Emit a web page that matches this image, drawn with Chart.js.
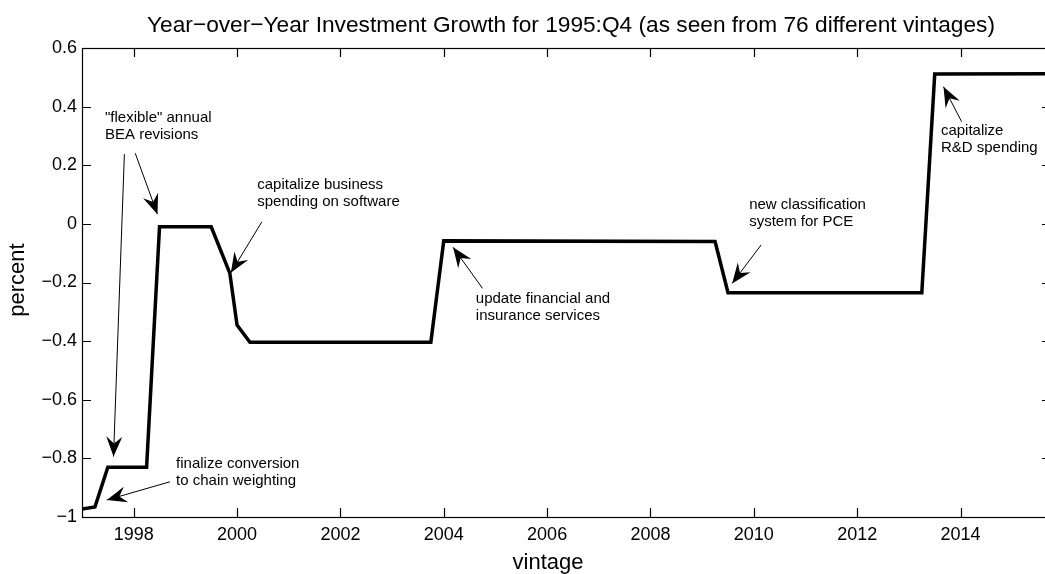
<!DOCTYPE html>
<html>
<head>
<meta charset="utf-8">
<script src="https://cdn.jsdelivr.net/npm/chart.js@4/dist/chart.umd.min.js"></script>
<style>
  html, body { margin: 0; padding: 0; background: #fff; overflow: hidden; }
  #wrap { width: 1060px; height: 574px; }
</style>
</head>
<body>
<div id="wrap"><canvas id="growthChart" width="1060" height="574"></canvas></div>
<script>
// ===============================
// DATA
// ===============================
// release vintage (year) where the estimate changed, and the growth estimate (percent)
const vintage = [1997.0, 1997.25, 1997.5, 1998.25, 1998.5, 1999.5, 1999.86, 2000.0,
                 2000.25, 2003.75, 2004.0, 2009.25, 2009.5, 2013.25, 2013.5, 2015.75];
const growth = [-0.973, -0.966, -0.83, -0.83, -0.01, -0.01, -0.168, -0.345,
                -0.404, -0.404, -0.058, -0.06, -0.235, -0.235, 0.511, 0.512];

const xTicks = [1998, 2000, 2002, 2004, 2006, 2008, 2010, 2012, 2014];
const yTicks = [-1, -0.8, -0.6, -0.4, -0.2, 0, 0.2, 0.4, 0.6];

const TITLE = "Year\u2212over\u2212Year Investment Growth for 1995:Q4 (as seen from 76 different vintages)";

// revision notes, placed in data units: first text line, then arrows [from, to]
const notes = [
  { text: ['"flexible" annual', 'BEA revisions'], at: [1997.445, 0.361],
    arrows: [[[1997.82, 0.238], [1997.61, -0.794]], [[1998.03, 0.241], [1998.46, 0.033]]] },
  { text: ['capitalize business', 'spending on software'], at: [2000.39, 0.133],
    arrows: [[[2000.48, 0.007], [1999.88, -0.167]]] },
  { text: ['update financial and', 'insurance services'], at: [2004.62, -0.256],
    arrows: [[[2004.75, -0.220], [2004.18, -0.080]]] },
  { text: ['new classification', 'system for PCE'], at: [2009.91, 0.064],
    arrows: [[[2010.14, -0.072], [2009.58, -0.203]]] },
  { text: ['capitalize', 'R&D spending'], at: [2013.62, 0.318],
    arrows: [[[2014.02, 0.349], [2013.67, 0.468]]] },
  { text: ['finalize conversion', 'to chain weighting'], at: [1998.82, -0.819],
    arrows: [[[1998.70, -0.880], [1997.48, -0.942]]] }
];

const FONT = '"Liberation Sans", Arial, Helvetica, sans-serif';

// ===============================
// HELPERS
// ===============================
function fmtTick(v) {
  const r = Math.round(v * 10) / 10;
  return r < 0 ? "\u2212" + Math.abs(r) : String(r);
}

function drawArrow(ctx, x0, y0, x1, y1) {
  ctx.beginPath();
  ctx.moveTo(x0, y0);
  ctx.lineTo(x1, y1);
  ctx.stroke();

  // notched arrow head
  const len = Math.hypot(x1 - x0, y1 - y0);
  const ux = (x1 - x0) / len, uy = (y1 - y0) / len;
  const nx = -uy, ny = ux;
  const L = 20, W = 8, N = 13;
  ctx.beginPath();
  ctx.moveTo(x1, y1);
  ctx.lineTo(x1 - ux * L + nx * W, y1 - uy * L + ny * W);
  ctx.lineTo(x1 - ux * N, y1 - uy * N);
  ctx.lineTo(x1 - ux * L - nx * W, y1 - uy * L - ny * W);
  ctx.closePath();
  ctx.fill();
}

// ===============================
// BOX, TICKS, LABELS, NOTES
// ===============================
const decorations = {
  id: 'decorations',
  afterDatasetsDraw(chart) {
    const { ctx, chartArea: a, scales: { x, y } } = chart;
    ctx.save();
    ctx.strokeStyle = '#000';
    ctx.fillStyle = '#000';
    ctx.lineWidth = 1.2;

    // axes box
    ctx.strokeRect(a.left + 0.5, a.top + 0.5, a.right - a.left, a.bottom - a.top);

    // inward ticks on all four sides
    const tl = 9;
    ctx.beginPath();
    xTicks.forEach(v => {
      const px = Math.round(x.getPixelForValue(v)) + 0.5;
      ctx.moveTo(px, a.bottom); ctx.lineTo(px, a.bottom - tl);
      ctx.moveTo(px, a.top); ctx.lineTo(px, a.top + tl);
    });
    yTicks.forEach(v => {
      const py = Math.round(y.getPixelForValue(v)) + 0.5;
      ctx.moveTo(a.left, py); ctx.lineTo(a.left + tl, py);
      ctx.moveTo(a.right, py); ctx.lineTo(a.right - tl, py);
    });
    ctx.stroke();

    // title and axis titles
    ctx.textAlign = 'center';
    ctx.textBaseline = 'middle';
    ctx.font = '22.7px ' + FONT;
    ctx.fillText(TITLE, 571, 26);
    ctx.font = '22px ' + FONT;
    ctx.fillText('vintage', 548, 563);
    ctx.save();
    ctx.translate(18, 280);
    ctx.rotate(-Math.PI / 2);
    ctx.fillText('percent', 0, 0);
    ctx.restore();

    // revision notes
    ctx.font = '15px ' + FONT;
    ctx.textAlign = 'left';
    ctx.lineWidth = 1;
    notes.forEach(n => {
      const tx = x.getPixelForValue(n.at[0]);
      const ty = y.getPixelForValue(n.at[1]);
      n.text.forEach((line, i) => ctx.fillText(line, tx, ty + i * 17));
      n.arrows.forEach(([from, to]) => {
        drawArrow(ctx,
          x.getPixelForValue(from[0]), y.getPixelForValue(from[1]),
          x.getPixelForValue(to[0]), y.getPixelForValue(to[1]));
      });
    });
    ctx.restore();
  }
};

// ===============================
// CHART
// ===============================
new Chart(document.getElementById('growthChart'), {
  type: 'line',
  data: {
    datasets: [{
      data: vintage.map((v, i) => ({ x: v, y: growth[i] })),
      borderColor: '#000',
      borderWidth: 3.5,
      borderJoinStyle: 'miter',
      pointRadius: 0,
      tension: 0,
      fill: false
    }]
  },
  options: {
    responsive: false,
    devicePixelRatio: 1,
    animation: false,
    events: [],
    layout: { padding: { top: 48, right: 9, left: 0, bottom: 0 } },
    plugins: {
      legend: { display: false },
      title: { display: false },
      tooltip: { enabled: false }
    },
    scales: {
      x: {
        type: 'linear',
        min: 1997,
        max: 2015.75,
        grid: { display: false, drawTicks: false },
        border: { display: false },
        afterBuildTicks: s => { s.ticks = xTicks.map(v => ({ value: v })); },
        afterFit: s => { s.height = 57; },
        ticks: {
          color: '#000',
          font: { family: FONT, size: 18 },
          padding: 7,
          maxRotation: 0,
          autoSkip: false,
          callback: v => String(v)
        }
      },
      y: {
        type: 'linear',
        min: -1,
        max: 0.6,
        grid: { display: false, drawTicks: false },
        border: { display: false },
        afterBuildTicks: s => { s.ticks = yTicks.map(v => ({ value: v })); },
        afterFit: s => { s.width = 82; },
        ticks: {
          color: '#000',
          font: { family: FONT, size: 18 },
          padding: 5,
          autoSkip: false,
          callback: v => fmtTick(v)
        }
      }
    }
  },
  plugins: [decorations]
});
</script>
</body>
</html>
